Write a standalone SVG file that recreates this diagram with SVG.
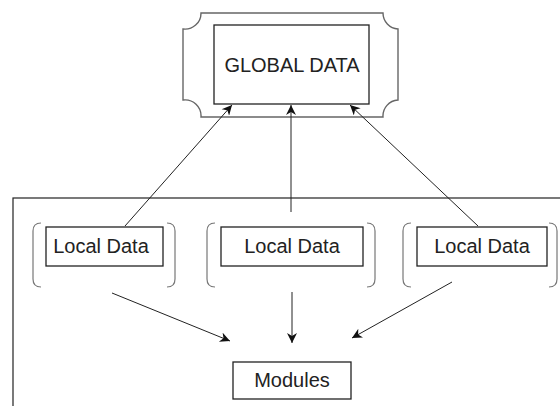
<svg xmlns="http://www.w3.org/2000/svg" width="560" height="406" viewBox="0 0 560 406">
<style>
.box{fill:#fff;stroke:#222;stroke-width:1.3}
.frame{fill:none;stroke:#222;stroke-width:1.2}
.br{fill:none;stroke:#777;stroke-width:1.2}
.lbl{font-family:"Liberation Sans",Arial,sans-serif;fill:#222;text-anchor:middle;font-size:20px}
.edge{stroke:#222;stroke-width:1;fill:none;marker-end:url(#ah)}
</style>
<defs>
<marker id="ah" viewBox="0 0 10 10" refX="10" refY="5" markerWidth="11" markerHeight="10" markerUnits="userSpaceOnUse" orient="auto">
<path d="M0,0 L10,5 L0,10 L3,5 z" fill="#111"/>
</marker>
</defs>
<rect id="container" x="13" y="198" width="560" height="220" class="frame"/>
<g id="global">
<path d="M201,13 H383 A16,16 0 0 0 398,29 V100 A16,16 0 0 0 383,117 H201 A16,16 0 0 0 183,100 V29 A16,16 0 0 0 201,13 Z" fill="#fff" stroke="#666" stroke-width="1.4"/>
<rect x="214" y="25" width="155" height="79" class="box"/>
<text x="292" y="72" class="lbl">GLOBAL DATA</text>
</g>
<g id="local1">
<path d="M41,223 Q33,223 33,231 V279 Q33,287 41,287 M167,223 Q175,223 175,231 V279 Q175,287 167,287" class="br"/>
<rect x="46" y="227" width="117" height="39" class="box"/>
<text x="101" y="253" class="lbl">Local Data</text>
</g>
<g id="local2">
<path d="M215,223 Q207,223 207,231 V279 Q207,287 215,287 M367,223 Q375,223 375,231 V279 Q375,287 367,287" class="br"/>
<rect x="221" y="227" width="142" height="39" class="box"/>
<text x="292" y="253" class="lbl">Local Data</text>
</g>
<g id="local3">
<path d="M411,223 Q403,223 403,231 V279 Q403,287 411,287 M549,223 Q557,223 557,231 V279 Q557,287 549,287" class="br"/>
<rect x="417" y="227" width="130" height="39" class="box"/>
<text x="482" y="253" class="lbl">Local Data</text>
</g>
<g id="modules">
<rect x="233" y="362" width="118" height="37" class="box"/>
<text x="292" y="387" class="lbl">Modules</text>
</g>
<g id="connectors">
<line x1="125" y1="226" x2="232" y2="105" class="edge"/>
<line x1="291" y1="212" x2="291" y2="105" class="edge"/>
<line x1="478" y1="226" x2="350" y2="105" class="edge"/>
<line x1="112" y1="293" x2="230" y2="341" class="edge"/>
<line x1="292" y1="292" x2="292" y2="343" class="edge"/>
<line x1="452" y1="282" x2="352" y2="338" class="edge"/>
</g>
</svg>
